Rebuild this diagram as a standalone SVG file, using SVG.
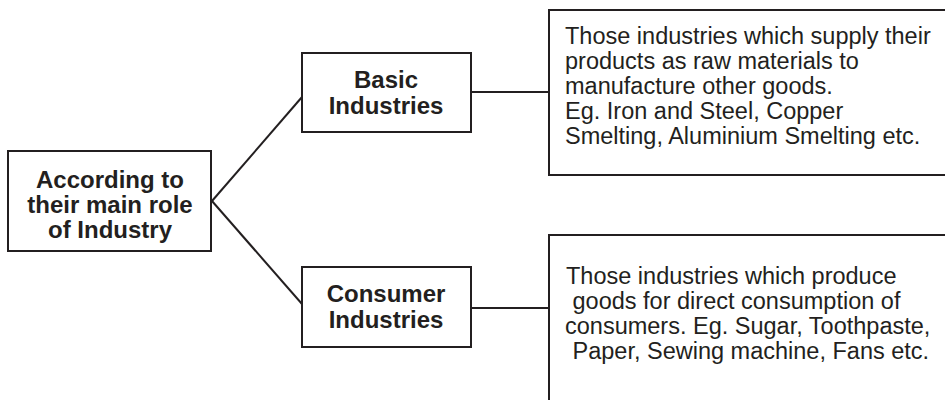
<svg xmlns="http://www.w3.org/2000/svg" width="945" height="400" viewBox="0 0 945 400">
<style>
.box{fill:#fff;stroke:#231f20;stroke-width:2}
.ln{fill:none;stroke:#231f20;stroke-width:2}
.b{font-family:"Liberation Sans",Arial,sans-serif;font-weight:bold;font-size:24px;fill:#231f20;text-anchor:middle}
.r{font-family:"Liberation Sans",Arial,sans-serif;font-size:23.5px;fill:#231f20}
</style>
<rect width="945" height="400" fill="#fff"/>
<g id="connectors">
<path class="ln" d="M212 201 L302 97"/>
<path class="ln" d="M212 201 L302 304"/>
<path class="ln" d="M471 92 L549 92"/>
<path class="ln" d="M471 308 L549 308"/>
</g>
<g id="root">
<rect class="box" x="8" y="151" width="203" height="100"/>
<text class="b" x="110" y="188">According to</text>
<text class="b" x="110" y="213">their main role</text>
<text class="b" x="110" y="238">of Industry</text>
</g>
<g id="basic">
<rect class="box" x="302" y="53" width="169" height="79"/>
<text class="b" x="386" y="88">Basic</text>
<text class="b" x="386" y="114">Industries</text>
</g>
<g id="consumer">
<rect class="box" x="302" y="267" width="169" height="80"/>
<text class="b" x="386" y="302">Consumer</text>
<text class="b" x="386" y="328">Industries</text>
</g>
<g id="basic-desc">
<path class="box" d="M946 10 L549 10 L549 175 L946 175"/>
<text class="r" x="565" y="44">Those industries which supply their</text>
<text class="r" x="565" y="69">products as raw materials to</text>
<text class="r" x="565" y="94">manufacture other goods.</text>
<text class="r" x="565" y="119">Eg. Iron and Steel, Copper</text>
<text class="r" x="565" y="144">Smelting, Aluminium Smelting etc.</text>
</g>
<g id="consumer-desc">
<path class="box" d="M946 235 L549 235 L549 402 L946 402"/>
<text class="r" x="566" y="284">Those industries which produce</text>
<text class="r" x="566" y="309" xml:space="preserve"> goods for direct consumption of</text>
<text class="r" x="565" y="334">consumers. Eg. Sugar, Toothpaste,</text>
<text class="r" x="566" y="359" xml:space="preserve"> Paper, Sewing machine, Fans etc.</text>
</g>
</svg>
